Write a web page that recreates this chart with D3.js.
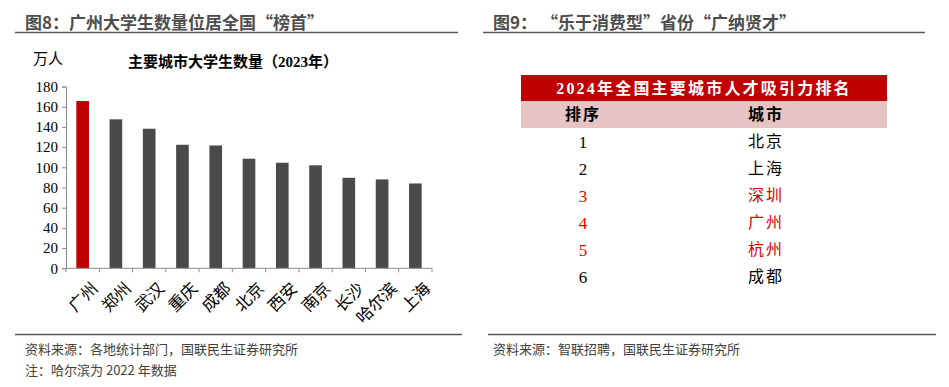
<!DOCTYPE html>
<html>
<head>
<meta charset="utf-8">
<script src="https://cdn.jsdelivr.net/npm/d3@7"></script>
<style>
  body { margin: 0; background: #fff; }
  svg { display: block; }
</style>
</head>
<body>
<svg id="chart" width="949" height="387"></svg>
<script>
// 主要城市大学生数量（2023年），万人
var cities = ["广州", "郑州", "武汉", "重庆", "成都", "北京", "西安", "南京", "长沙", "哈尔滨", "上海"];
var students = [165.6, 147.5, 138.2, 122.3, 121.6, 108.5, 104.5, 102, 89.6, 88, 84];
var yTicks = [0, 20, 40, 60, 80, 100, 120, 140, 160, 180];

// 2024年全国主要城市人才吸引力排名
var ranks = ["1", "2", "3", "4", "5", "6"];
var rankCities = ["北京", "上海", "深圳", "广州", "杭州", "成都"];
var highlight = [false, false, true, true, true, false];

var sans = "'Microsoft YaHei', 'Noto Sans CJK SC', sans-serif";
var serif = "'Times New Roman', 'Liberation Serif', 'Noto Sans CJK SC', serif";

var svg = d3.select("#chart");

// ---- headers ----
svg.append("text")
    .attr("x", 25).attr("y", 29)
    .attr("font-family", sans).attr("font-size", 17).attr("font-weight", "bold")
    .attr("fill", "#4d4d4d")
    .text("图8：广州大学生数量位居全国“榜首”");
svg.append("line").attr("x1", 15).attr("x2", 458).attr("y1", 32.5).attr("y2", 32.5)
    .attr("stroke", "#595959").attr("stroke-width", 1.5);

svg.append("text")
    .attr("x", 493).attr("y", 29)
    .attr("font-family", sans).attr("font-size", 17).attr("font-weight", "bold")
    .attr("fill", "#4d4d4d")
    .text("图9：  “乐于消费型”省份“广纳贤才”");
svg.append("line").attr("x1", 483).attr("x2", 925).attr("y1", 32.5).attr("y2", 32.5)
    .attr("stroke", "#595959").attr("stroke-width", 1.5);

// ---- bar chart ----
var margin = { left: 66, right: 432, top: 86.5, bottom: 268.3 };

var x = d3.scaleBand()
    .domain(cities)
    .range([margin.left, margin.right])
    .paddingInner(0.62).paddingOuter(0.31);

var y = d3.scaleLinear()
    .domain([0, 180])
    .range([margin.bottom, margin.top]);

svg.append("text")
    .attr("x", 33).attr("y", 64)
    .attr("font-family", serif).attr("font-size", 15).attr("fill", "#000")
    .text("万人");

svg.append("text")
    .attr("x", 233).attr("y", 67)
    .attr("text-anchor", "middle")
    .attr("font-family", serif).attr("font-size", 15).attr("font-weight", "bold").attr("fill", "#000")
    .text("主要城市大学生数量（2023年）");

svg.selectAll("rect.bar")
    .data(students)
    .enter()
    .append("rect")
    .attr("class", "bar")
    .attr("x", function (d, i) { return x(cities[i]); })
    .attr("width", x.bandwidth())
    .attr("y", function (d) { return y(d); })
    .attr("height", function (d) { return y(0) - y(d); })
    .attr("fill", function (d, i) { return i === 0 ? "#c00000" : "#4a4a4a"; });

// y axis
var yAxis = svg.append("g")
    .attr("transform", "translate(" + margin.left + ",0)")
    .call(d3.axisLeft(y).tickValues(yTicks).tickSize(4).tickPadding(4));
yAxis.select(".domain").attr("stroke", "#8c8c8c");
yAxis.selectAll(".tick line").attr("stroke", "#8c8c8c");
yAxis.selectAll("text")
    .attr("font-family", serif).attr("font-size", 15).attr("fill", "#000");

// x axis: ticks on category boundaries
var xAxis = svg.append("g");
xAxis.append("line")
    .attr("x1", margin.left).attr("x2", margin.right)
    .attr("y1", y(0)).attr("y2", y(0))
    .attr("stroke", "#8c8c8c");
var step = x.step();
var bounds = d3.range(cities.length + 1).map(function (i) {
    return x(cities[0]) - step * x.paddingOuter() + i * step;
});
xAxis.selectAll("line.tk")
    .data(bounds)
    .enter()
    .append("line")
    .attr("class", "tk")
    .attr("x1", function (d) { return d; }).attr("x2", function (d) { return d; })
    .attr("y1", y(0)).attr("y2", y(0) + 4)
    .attr("stroke", "#8c8c8c");
xAxis.selectAll("text")
    .data(cities)
    .enter()
    .append("text")
    .attr("transform", function (d) {
        return "translate(" + (x(d) + x.bandwidth() / 2 + 8) + "," + (y(0) + 13) + ") rotate(-45)";
    })
    .attr("text-anchor", "end")
    .attr("dy", "0.7em")
    .attr("font-family", serif).attr("font-size", 16.5).attr("fill", "#000")
    .text(function (d) { return d; });

// ---- table ----
var tbl = { left: 521, right: 887, top: 75, headH: 26, subH: 27, rowH: 27 };
var colX = [583, 766];

svg.append("rect")
    .attr("x", tbl.left).attr("y", tbl.top)
    .attr("width", tbl.right - tbl.left).attr("height", tbl.headH)
    .attr("fill", "#c00000");
svg.append("text")
    .attr("x", (tbl.left + tbl.right) / 2).attr("y", tbl.top + tbl.headH / 2)
    .attr("dy", "0.36em").attr("text-anchor", "middle")
    .attr("font-family", serif).attr("font-size", 16).attr("font-weight", "bold")
    .attr("letter-spacing", 2.2).attr("fill", "#fff")
    .text("2024年全国主要城市人才吸引力排名");

svg.append("rect")
    .attr("x", tbl.left).attr("y", tbl.top + tbl.headH)
    .attr("width", tbl.right - tbl.left).attr("height", tbl.subH)
    .attr("fill", "#e6c4c4");
["排序", "城市"].forEach(function (t, i) {
    svg.append("text")
        .attr("x", colX[i]).attr("y", tbl.top + tbl.headH + tbl.subH / 2)
        .attr("dy", "0.36em").attr("text-anchor", "middle")
        .attr("font-family", serif).attr("font-size", 16).attr("font-weight", "bold")
        .attr("letter-spacing", 2).attr("fill", "#000")
        .text(t);
});

var rowY = d3.scaleBand()
    .domain(ranks)
    .range([tbl.top + tbl.headH + tbl.subH, tbl.top + tbl.headH + tbl.subH + tbl.rowH * ranks.length]);

var rows = svg.selectAll("g.row")
    .data(ranks)
    .enter()
    .append("g")
    .attr("class", "row")
    .attr("transform", function (d) { return "translate(0," + (rowY(d) + rowY.bandwidth() / 2) + ")"; });
rows.append("text")
    .attr("x", colX[0]).attr("dy", "0.36em").attr("text-anchor", "middle")
    .attr("font-family", serif).attr("font-size", 17)
    .attr("fill", function (d, i) { return highlight[i] ? "#e00000" : "#000"; })
    .text(function (d) { return d; });
rows.append("text")
    .attr("x", colX[1]).attr("dy", "0.36em").attr("text-anchor", "middle")
    .attr("font-family", serif).attr("font-size", 16).attr("letter-spacing", 2)
    .attr("fill", function (d, i) { return highlight[i] ? "#e00000" : "#000"; })
    .text(function (d, i) { return rankCities[i]; });

// ---- footers ----
svg.append("line").attr("x1", 15).attr("x2", 462).attr("y1", 334.5).attr("y2", 334.5)
    .attr("stroke", "#595959").attr("stroke-width", 1.5);
svg.append("line").attr("x1", 488).attr("x2", 936).attr("y1", 334.5).attr("y2", 334.5)
    .attr("stroke", "#595959").attr("stroke-width", 1.5);

var foot = [
    { x: 25, y: 354, t: "资料来源：各地统计部门，国联民生证券研究所" },
    { x: 25, y: 375, t: "注：哈尔滨为 2022 年数据" },
    { x: 493, y: 354, t: "资料来源：智联招聘，国联民生证券研究所" }
];
svg.selectAll("text.foot")
    .data(foot)
    .enter()
    .append("text")
    .attr("class", "foot")
    .attr("x", function (d) { return d.x; }).attr("y", function (d) { return d.y; })
    .attr("font-family", sans).attr("font-size", 13).attr("fill", "#404040")
    .text(function (d) { return d.t; });
</script>
</body>
</html>
